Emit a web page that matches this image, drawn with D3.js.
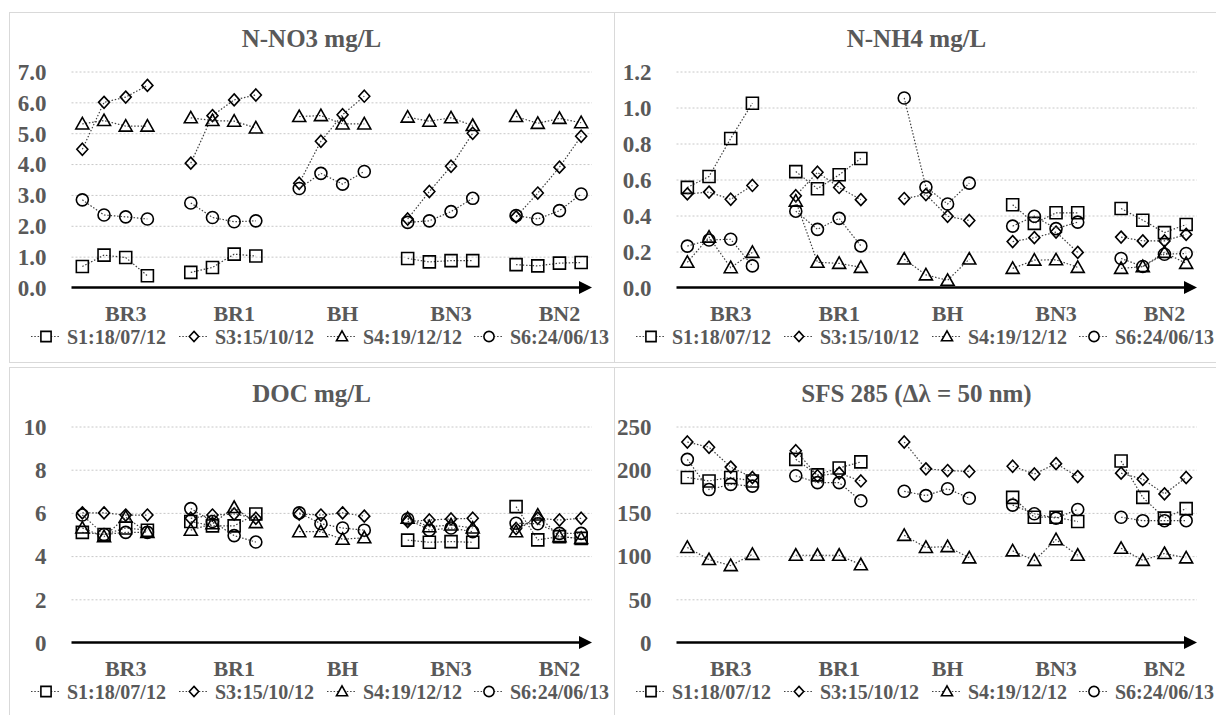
<!DOCTYPE html>
<html>
<head>
<meta charset="utf-8">
<script src="https://cdn.jsdelivr.net/npm/d3@7"></script>
<style>
  html, body { margin: 0; padding: 0; background: #ffffff; }
  svg { display: block; }
  text { font-family: "Liberation Serif", "Times New Roman", serif; font-weight: bold; fill: #595959; }
</style>
</head>
<body>
<svg id="chart" width="1216" height="715"></svg>
<script>
// ---------- data ----------
const categories = ["BR3", "BR1", "BH", "BN3", "BN2"];
const seriesNames = ["S1:18/07/12", "S3:15/10/12", "S4:19/12/12", "S6:24/06/13"];
const seriesShapes = ["square", "diamond", "triangle", "circle"];

// N-NO3 mg/L (4 values per site, sites in category order)
const no3S1 = [0.68, 1.05, 0.97, 0.38,  0.49, 0.65, 1.08, 1.02,  null, null, null, null,  0.94, 0.83, 0.87, 0.87,  0.74, 0.70, 0.79, 0.81];
const no3S3 = [4.48, 6.00, 6.17, 6.55,  4.03, 5.57, 6.08, 6.24,  3.38, 4.74, 5.60, 6.20,  2.22, 3.11, 3.93, 5.00,  2.29, 3.06, 3.90, 4.90];
const no3S4 = [5.30, 5.41, 5.23, 5.23,  5.50, 5.41, 5.39, 5.17,  5.54, 5.57, 5.30, 5.30,  5.52, 5.39, 5.50, 5.25,  5.54, 5.32, 5.48, 5.34];
const no3S6 = [2.84, 2.35, 2.29, 2.22,  2.74, 2.27, 2.13, 2.16,  3.21, 3.70, 3.35, 3.76,  2.11, 2.16, 2.46, 2.89,  2.33, 2.22, 2.49, 3.03];
const no3Ticks = [0, 1, 2, 3, 4, 5, 6, 7];

// N-NH4 mg/L
const nh4S1 = [0.556, 0.617, 0.828, 1.024,  0.644, 0.549, 0.626, 0.717,  null, null, null, null,  0.460, 0.356, 0.415, 0.415,  0.439, 0.374, 0.305, 0.350];
const nh4S3 = [0.520, 0.530, 0.490, 0.567,  0.510, 0.640, 0.556, 0.488,  0.494, 0.516, 0.396, 0.372,  0.255, 0.277, 0.308, 0.195,  0.280, 0.259, 0.259, 0.295];
const nh4S4 = [0.140, 0.280, 0.110, 0.195,  0.480, 0.140, 0.134, 0.112,  0.158, 0.070, 0.040, 0.158,  0.106, 0.152, 0.154, 0.112,  0.106, 0.116, 0.195, 0.134];
const nh4S6 = [0.230, 0.264, 0.268, 0.120,  0.424, 0.323, 0.384, 0.231,  1.053, 0.558, 0.464, 0.580,  0.341, 0.396, 0.327, 0.363,  0.161, 0.117, 0.185, 0.189];
const nh4Ticks = [0, 0.2, 0.4, 0.6, 0.8, 1.0, 1.2];

// DOC mg/L
const docS1 = [5.10, 5.00, 5.30, 5.20,  5.60, 5.40, 5.40, 5.95,  null, null, null, null,  4.74, 4.64, 4.67, 4.64,  6.29, 4.75, 4.90, 4.82];
const docS3 = [6.00, 6.00, 5.90, 5.90,  5.75, 5.90, 5.95, 5.75,  5.95, 5.90, 6.00, 5.85,  5.60, 5.67, 5.72, 5.75,  5.28, 5.75, 5.67, 5.75];
const docS4 = [5.30, 4.90, 5.80, 5.10,  5.20, 5.50, 6.25, 5.55,  5.13, 5.13, 4.78, 4.85,  5.75, 5.36, 5.44, 5.30,  5.13, 5.90, 4.90, 4.82];
const docS6 = [5.90, 5.00, 5.10, 5.10,  6.20, 5.60, 4.95, 4.65,  6.00, 5.50, 5.30, 5.20,  5.72, 5.20, 5.30, 5.13,  5.52, 5.50, 5.05, 5.05];
const docTicks = [0, 2, 4, 6, 8, 10];

// SFS 285 (Δλ = 50 nm)
const sfsS1 = [191, 187, 191, 187,  212, 194, 202, 209,  null, null, null, null,  168, 145, 145, 140,  210, 168, 144, 155];
const sfsS3 = [232, 226, 203, 191,  222, 193, 196, 187,  232, 201, 199, 198,  204, 195, 207, 192,  196, 189, 172, 191];
const sfsS4 = [110,  96,  89, 102,  101, 101, 101,  90,  124, 110, 111,  98,  106,  95, 119, 101,  109,  95, 103,  98];
const sfsS6 = [212, 177, 183, 181,  193, 185, 185, 164,  175, 170, 178, 167,  159, 149, 144, 154,  145, 141, 141, 141];
const sfsTicks = [0, 50, 100, 150, 200, 250];

const titles = ["N-NO3 mg/L", "N-NH4 mg/L", "DOC mg/L", "SFS 285 (\u0394\u03bb = 50 nm)"];

// ---------- layout ----------
const panels = [
  { title: titles[0], px: 10,  py: 12,  series: [no3S1, no3S3, no3S4, no3S6], ticks: no3Ticks, fmt: d3.format(".1f") },
  { title: titles[1], px: 615, py: 12,  series: [nh4S1, nh4S3, nh4S4, nh4S6], ticks: nh4Ticks, fmt: d3.format(".1f") },
  { title: titles[2], px: 10,  py: 367, series: [docS1, docS3, docS4, docS6], ticks: docTicks, fmt: d3.format("d") },
  { title: titles[3], px: 615, py: 367, series: [sfsS1, sfsS3, sfsS4, sfsS6], ticks: sfsTicks, fmt: d3.format("d") }
];

const svg = d3.select("#chart");

function shapePath(type, k) {
  k = k || 1;
  if (type === "square") { const s = 6 * k; return `M${-s},${-s}H${s}V${s}H${-s}Z`; }
  if (type === "diamond") { const w = 5.5 * k, h = 6 * k; return `M0,${-h}L${w},0L0,${h}L${-w},0Z`; }
  if (type === "triangle") { const w = 6.5 * k; return `M0,${-6.5 * k}L${w},${5 * k}L${-w},${5 * k}Z`; }
  const r = 6 * k;
  return `M${r},0A${r},${r},0,1,1,${-r},0A${r},${r},0,1,1,${r},0Z`;
}

const slots = d3.range(24);

panels.forEach(p => {
  const g = svg.append("g").attr("transform", `translate(${p.px},${p.py})`);
  const W = 605, H = p.py > 100 ? 360 : 350;

  g.append("rect").attr("x", -0.5).attr("y", 0.5).attr("width", W).attr("height", H)
    .attr("fill", "none").attr("stroke", "#d9d9d9").attr("stroke-width", 1);

  g.append("text").attr("x", 301.5).attr("y", 35).attr("text-anchor", "middle")
    .style("font-size", "25px").text(p.title);

  const x0 = 61.5, x1 = 582;
  const yTop = 59.5, yBot = 275.5;
  const yMax = p.ticks[p.ticks.length - 1];

  const x = d3.scaleBand().domain(slots).range([x0, x1]).padding(0);
  const y = d3.scaleLinear().domain([0, yMax]).range([yBot, yTop]);
  const cx = s => x(s) + x.bandwidth() / 2;

  // gridlines
  const grid = g.append("g").attr("transform", `translate(${x0},0)`)
    .call(d3.axisLeft(y).tickValues(p.ticks.slice(1)).tickSize(-(x1 - x0)).tickFormat(""));
  grid.select(".domain").remove();
  grid.selectAll("line").attr("stroke", "#c8c8c8").attr("stroke-width", 1).attr("stroke-dasharray", "2,2");

  // y tick labels
  const yax = g.append("g").attr("transform", `translate(${x0 - 25},0)`)
    .call(d3.axisLeft(y).tickValues(p.ticks).tickSize(0).tickPadding(0).tickFormat(p.fmt));
  yax.select(".domain").remove();
  yax.selectAll("text").attr("fill", "#595959").attr("dy", "0.34em")
    .style("font-size", "23px").style("font-family", "'Liberation Serif', serif").style("font-weight", "bold");

  // x axis with arrow
  g.append("line").attr("x1", x0).attr("x2", x1 - 10).attr("y1", y(0)).attr("y2", y(0))
    .attr("stroke", "#000").attr("stroke-width", 2.5);
  g.append("path").attr("d", `M${x1},${y(0)}L${x1 - 13},${y(0) - 6.5}L${x1 - 13},${y(0) + 6.5}Z`).attr("fill", "#000");

  // category labels (at third slot of each group)
  g.selectAll("text.cat").data(categories).join("text").attr("class", "cat")
    .attr("x", (d, i) => cx(i * 5 + 2)).attr("y", yBot + 33)
    .attr("text-anchor", "middle").style("font-size", "22px").text(d => d);

  // series
  p.series.forEach((vals, si) => {
    const pts = vals.map((v, i) => ({ slot: Math.floor(i / 4) * 5 + (i % 4), v, grp: Math.floor(i / 4) }));
    const line = d3.line().defined(d => d.v != null).x(d => cx(d.slot)).y(d => y(d.v));
    categories.forEach((c, gi) => {
      const seg = pts.filter(d => d.grp === gi);
      g.append("path").attr("d", line(seg)).attr("fill", "none")
        .attr("stroke", "#404040").attr("stroke-width", 1.2).attr("stroke-dasharray", "1.5,1.8");
    });
    g.selectAll(null).data(pts.filter(d => d.v != null)).join("path")
      .attr("transform", d => `translate(${cx(d.slot)},${y(d.v)})`)
      .attr("d", shapePath(seriesShapes[si]))
      .attr("fill", "none").attr("stroke", "#000").attr("stroke-width", 1.6);
  });

  // legend
  const legX = [57, 205, 353, 500];
  const legY = yBot + 56;
  seriesNames.forEach((name, si) => {
    const tx = legX[si];
    const lg = g.append("g");
    lg.append("line").attr("x1", tx - 36).attr("x2", tx - 7).attr("y1", legY - 7).attr("y2", legY - 7)
      .attr("stroke", "#404040").attr("stroke-width", 1.2).attr("stroke-dasharray", "1.5,1.8");
    lg.append("path").attr("transform", `translate(${tx - 21},${legY - 7})`)
      .attr("d", shapePath(seriesShapes[si], 0.85))
      .attr("fill", "#fff").attr("stroke", "#000").attr("stroke-width", 1.6);
    lg.append("text").attr("x", tx).attr("y", legY).style("font-size", "20px").text(name);
  });
});
</script>
</body>
</html>
